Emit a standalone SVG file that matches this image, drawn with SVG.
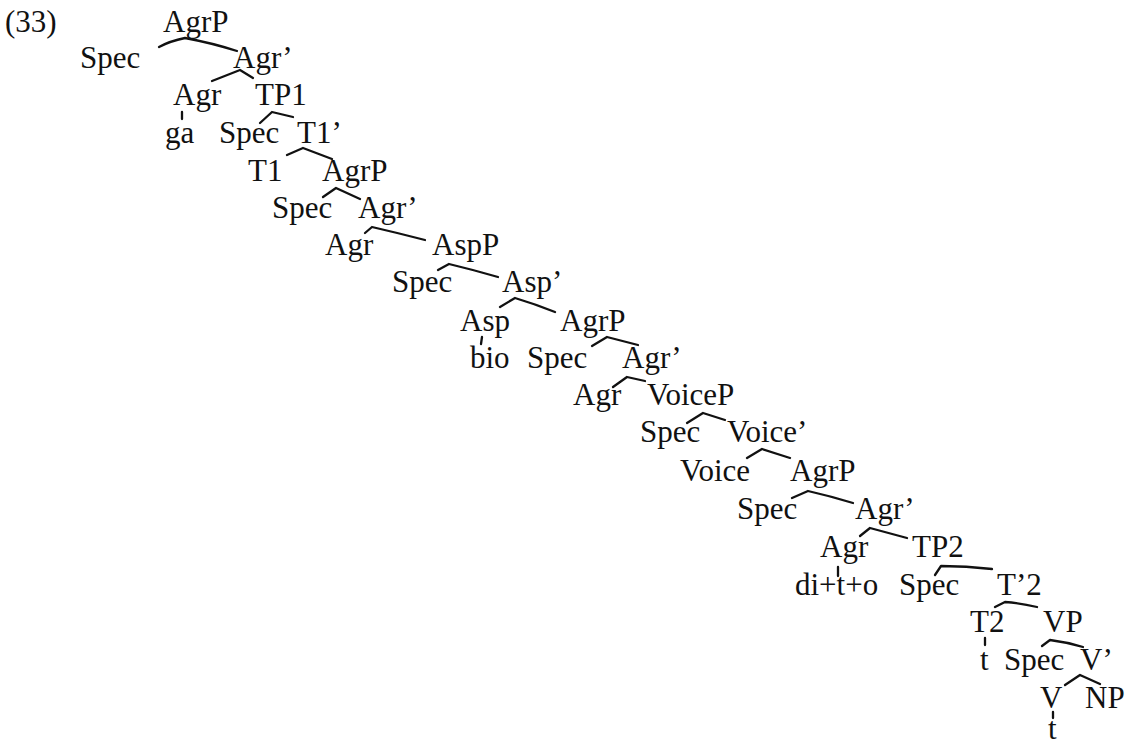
<svg xmlns="http://www.w3.org/2000/svg" width="1132" height="746" viewBox="0 0 1132 746">
  <style>
    .n { font-family: "Liberation Serif", "Times New Roman", serif; font-size: 31px; fill: #111; }
    .e { fill: none; stroke: #111; stroke-width: 2.3; stroke-linecap: round; stroke-linejoin: round; }
  </style>
  <rect width="1132" height="746" fill="#fff"/>

  <!-- example number -->
  <text id="label" class="n" x="5" y="32">(33)</text>

  <!-- tree connectors: each branch point drawn as one bent stroke -->
  <g id="edges">
    <path class="e" d="M159 47 Q170 41 185 38 Q212 43 237 51"/>
    <path class="e" d="M212 81 L240 70 L253 78"/>
    <path class="e" d="M182 112 L182 119"/>
    <path class="e" d="M260 123 L272 112 L293 117"/>
    <path class="e" d="M287 155 L303 148 L332 159"/>
    <path class="e" d="M323 197 L336 188 L360 199"/>
    <path class="e" d="M365 233 L372 227 Q398 233 425 240"/>
    <path class="e" d="M438 270 L449 264 Q474 270 498 277"/>
    <path class="e" d="M500 307 L515 298 Q535 304 555 312"/>
    <path class="e" d="M482 337 L481 344"/>
    <path class="e" d="M592 346 L607 337 L638 345"/>
    <path class="e" d="M613 387 L627 377 L645 381"/>
    <path class="e" d="M687 423 L703 413 L725 420"/>
    <path class="e" d="M747 458 L762 449 L790 458"/>
    <path class="e" d="M792 498 L808 491 Q830 496 853 503"/>
    <path class="e" d="M860 536 L870 528 L907 538"/>
    <path class="e" d="M838 567 L838 576"/>
    <path class="e" d="M935 575 L941 566 Q966 566 992 569"/>
    <path class="e" d="M995 607 L1005 602 Q1021 603 1037 607"/>
    <path class="e" d="M985 638 L985 645"/>
    <path class="e" d="M1042 646 L1050 640 Q1066 642 1083 647"/>
    <path class="e" d="M1065 685 L1080 675 L1100 684"/>
    <path class="e" d="M1053 712 L1053 718"/>
  </g>

  <!-- nodes, top to bottom -->
  <g id="agrp1"><text class="n" x="163" y="32">AgrP</text></g>
  <g id="spec1"><text class="n" x="80" y="68">Spec</text></g>
  <g id="agrbar1"><text class="n" x="233" y="68">Agr’</text></g>
  <g id="agr1"><text class="n" x="173" y="105">Agr</text></g>
  <g id="tp1"><text class="n" x="255" y="105">TP1</text></g>
  <g id="ga"><text class="n" x="165" y="143">ga</text></g>
  <g id="spec2"><text class="n" x="219" y="143">Spec</text></g>
  <g id="t1bar"><text class="n" x="297" y="143">T1’</text></g>
  <g id="t1"><text class="n" x="248" y="181">T1</text></g>
  <g id="agrp2"><text class="n" x="322" y="181">AgrP</text></g>
  <g id="spec3"><text class="n" x="272" y="218">Spec</text></g>
  <g id="agrbar2"><text class="n" x="358" y="218">Agr’</text></g>
  <g id="agr2"><text class="n" x="325" y="255">Agr</text></g>
  <g id="aspp"><text class="n" x="432" y="255">AspP</text></g>
  <g id="spec4"><text class="n" x="392" y="292">Spec</text></g>
  <g id="aspbar"><text class="n" x="502" y="292">Asp’</text></g>
  <g id="asp"><text class="n" x="460" y="331">Asp</text></g>
  <g id="agrp3"><text class="n" x="560" y="331">AgrP</text></g>
  <g id="bio"><text class="n" x="470" y="368">bio</text></g>
  <g id="spec5"><text class="n" x="527" y="368">Spec</text></g>
  <g id="agrbar3"><text class="n" x="622" y="368">Agr’</text></g>
  <g id="agr3"><text class="n" x="573" y="405">Agr</text></g>
  <g id="voicep"><text class="n" x="647" y="405">VoiceP</text></g>
  <g id="spec6"><text class="n" x="640" y="442">Spec</text></g>
  <g id="voicebar"><text class="n" x="727" y="442">Voice’</text></g>
  <g id="voice"><text class="n" x="680" y="481">Voice</text></g>
  <g id="agrp4"><text class="n" x="790" y="481">AgrP</text></g>
  <g id="spec7"><text class="n" x="737" y="519">Spec</text></g>
  <g id="agrbar4"><text class="n" x="855" y="519">Agr’</text></g>
  <g id="agr4"><text class="n" x="820" y="557">Agr</text></g>
  <g id="tp2"><text class="n" x="912" y="557">TP2</text></g>
  <g id="ditto"><text class="n" x="795" y="595">di+t+o</text></g>
  <g id="spec8"><text class="n" x="899" y="595">Spec</text></g>
  <g id="t2bar"><text class="n" x="997" y="595">T’2</text></g>
  <g id="t2"><text class="n" x="970" y="632">T2</text></g>
  <g id="vp"><text class="n" x="1043" y="632">VP</text></g>
  <g id="trace1"><text class="n" x="980" y="670">t</text></g>
  <g id="spec9"><text class="n" x="1004" y="670">Spec</text></g>
  <g id="vbar"><text class="n" x="1080" y="670">V’</text></g>
  <g id="v"><text class="n" x="1040" y="708">V</text></g>
  <g id="np"><text class="n" x="1085" y="708">NP</text></g>
  <g id="trace2"><text class="n" x="1048" y="739">t</text></g>
</svg>
